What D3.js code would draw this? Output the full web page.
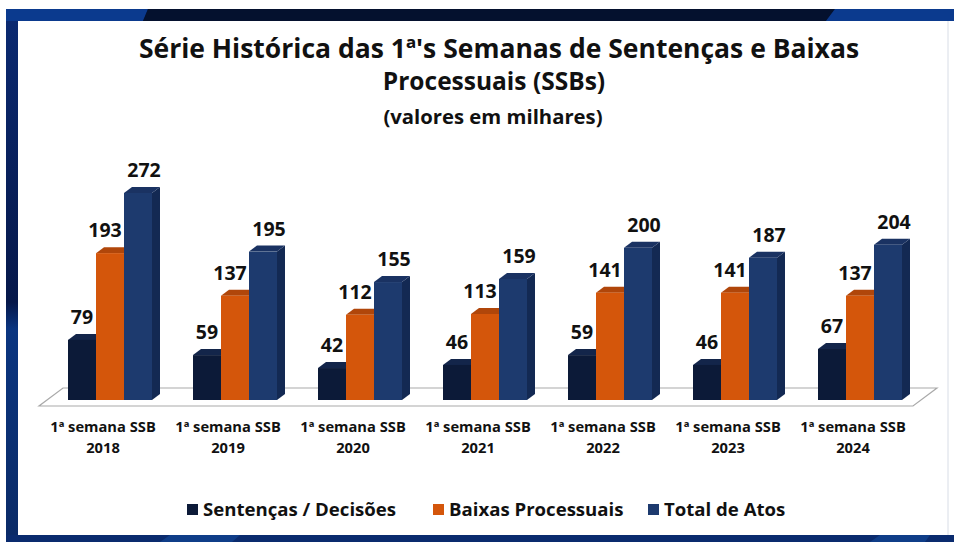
<!DOCTYPE html>
<html>
<head>
<meta charset="utf-8">
<script src="https://cdn.jsdelivr.net/npm/d3@7"></script>
<style>
  html, body { margin: 0; padding: 0; background: #fff; }
  svg { display: block; font-family: 'Open Sans', 'Noto Sans', sans-serif; }
</style>
</head>
<body>
<div id="chart"></div>
<script>
const categories = ['2018', '2019', '2020', '2021', '2022', '2023', '2024'];
const seriesNames = ['Sentenças / Decisões', 'Baixas Processuais', 'Total de Atos'];
const sentencas = [79, 59, 42, 46, 59, 46, 67];
const baixas = [193, 137, 112, 113, 141, 141, 137];
const total = [272, 195, 155, 159, 200, 187, 204];
const titleLines = ["Série Histórica das 1ª's Semanas de Sentenças e Baixas", 'Processuais (SSBs)'];
const subtitle = '(valores em milhares)';

const colors = [
    { front: '#0c1a38', top: '#13254a', side: '#081430' },
    { front: '#d4560b', top: '#b0460a', side: '#a84108' },
    { front: '#1d3a6e', top: '#1a3262', side: '#132953' }
];

const width = 954;
const height = 542;
const depthX = 8;
const depthY = 6;
const baseY = 400;
const labelShift = [0, -5, 6]; // data labels sit a little off-centre per series
const catShift = -7;

const svg = d3.select('#chart').append('svg')
    .attr('width', width)
    .attr('height', height);

// frame
const defs = svg.append('defs');
const leftGrad = defs.append('linearGradient').attr('id', 'leftGrad').attr('x1', 0).attr('y1', 0).attr('x2', 0).attr('y2', 1);
leftGrad.append('stop').attr('offset', '0%').attr('stop-color', '#0b2a72');
leftGrad.append('stop').attr('offset', '55%').attr('stop-color', '#06184a');
leftGrad.append('stop').attr('offset', '60%').attr('stop-color', '#0a3580');
leftGrad.append('stop').attr('offset', '100%').attr('stop-color', '#0a2a66');

svg.append('rect').attr('x', 6).attr('y', 9).attr('width', width - 6).attr('height', height - 9).attr('fill', '#07205a');
svg.append('rect').attr('x', 6).attr('y', 9).attr('width', 12).attr('height', height - 9).attr('fill', 'url(#leftGrad)');
svg.append('polygon').attr('points', '6,9 148,9 143,21 6,21').attr('fill', '#0b3a8e');
svg.append('polygon').attr('points', '148,9 835,9 826,21 143,21').attr('fill', '#04112e');
svg.append('polygon').attr('points', '835,9 954,9 954,21 826,21').attr('fill', '#0b3a8e');
svg.append('polygon').attr('points', '6,535 954,535 954,542 6,542').attr('fill', '#0a2b6e');
svg.append('polygon').attr('points', '170,535 240,535 232,542 160,542').attr('fill', '#134a9a').attr('opacity', 0.6);
svg.append('polygon').attr('points', '880,535 930,535 925,542 870,542').attr('fill', '#134a9a').attr('opacity', 0.6);

svg.append('rect').attr('x', 18).attr('y', 21).attr('width', width - 18).attr('height', 514).attr('fill', '#ffffff');
svg.append('line').attr('x1', 948).attr('x2', 948).attr('y1', 21).attr('y2', 535).attr('stroke', '#d8dde6').attr('stroke-width', 1);

// titles
const title = svg.append('g').attr('text-anchor', 'middle').attr('fill', '#111');
title.selectAll('text.t')
    .data(titleLines)
    .join('text')
    .attr('class', 't')
    .attr('x', (d, i) => (i === 0 ? 499 : 494))
    .attr('y', (d, i) => 58 + i * 32)
    .attr('font-size', (d, i) => (i === 0 ? 26.5 : 24.5))
    .attr('font-weight', 700)
    .text(d => d);
title.append('text')
    .attr('x', 493)
    .attr('y', 124)
    .attr('font-size', 20.3)
    .attr('font-weight', 700)
    .text(subtitle);

// scales
const x0 = d3.scaleBand()
    .domain(categories)
    .range([47.5, 922.5])
    .paddingInner(0.328)
    .paddingOuter(0.164);

const x1 = d3.scaleBand()
    .domain(d3.range(seriesNames.length))
    .range([0, x0.bandwidth()]);

const y = d3.scaleLinear()
    .domain([0, 300])
    .range([baseY, baseY - 300 * 0.761]);

// floor
const floorLeft = x0.range()[0] - 8.5;
const floorRight = x0.range()[1] - 9.5;
svg.append('polygon')
    .attr('points', [
        [floorLeft + 24, 388], [floorRight + 24, 388],
        [floorRight, 406], [floorLeft, 406]
    ].map(p => p.join(',')).join(' '))
    .attr('fill', '#ffffff')
    .attr('stroke', '#a9a9a9')
    .attr('stroke-width', 1.2);

// bars
const seriesValues = [sentencas, baixas, total];
const barData = [];
categories.forEach((c, ci) => {
    seriesValues.forEach((vals, si) => {
        barData.push({ cat: c, s: si, value: vals[ci] });
    });
});

const bars = svg.append('g').attr('class', 'bars')
    .selectAll('g')
    .data(barData)
    .join('g')
    .attr('transform', d => `translate(${x0(d.cat) + x1(d.s)},0)`);

const bw = x1.bandwidth();

bars.append('polygon')
    .attr('points', d => {
        const t = y(d.value);
        return [[bw, t], [bw + depthX, t - depthY], [bw + depthX, baseY - depthY], [bw, baseY]].map(p => p.join(',')).join(' ');
    })
    .attr('fill', d => colors[d.s].side);

bars.append('polygon')
    .attr('points', d => {
        const t = y(d.value);
        return [[0, t], [depthX, t - depthY], [bw + depthX, t - depthY], [bw, t]].map(p => p.join(',')).join(' ');
    })
    .attr('fill', d => colors[d.s].top);

bars.append('rect')
    .attr('x', 0)
    .attr('y', d => y(d.value))
    .attr('width', bw)
    .attr('height', d => baseY - y(d.value))
    .attr('fill', d => colors[d.s].front);

// labels on top so they are never hidden by the next bar
svg.append('g')
    .selectAll('text')
    .data(barData)
    .join('text')
    .attr('x', d => x0(d.cat) + x1(d.s) + bw / 2 + labelShift[d.s])
    .attr('y', d => y(d.value) - 16)
    .attr('text-anchor', 'middle')
    .attr('font-size', 19.5)
    .attr('font-weight', 700)
    .attr('fill', '#111')
    .text(d => d.value);

// category labels
const labels = svg.append('g').attr('text-anchor', 'middle').attr('fill', '#111')
    .selectAll('text')
    .data(categories)
    .join('text')
    .attr('x', d => x0(d) + x0.bandwidth() / 2 + catShift)
    .attr('y', 432)
    .attr('font-size', 14.7)
    .attr('font-weight', 700);
labels.append('tspan').text('1ª semana SSB');
labels.append('tspan')
    .attr('x', d => x0(d) + x0.bandwidth() / 2 + catShift)
    .attr('dy', 21)
    .text(d => d);

// legend
const legendX = [187, 433, 648];
const legend = svg.append('g')
    .selectAll('g')
    .data(seriesNames)
    .join('g')
    .attr('transform', (d, i) => `translate(${legendX[i]},509)`);
legend.append('rect')
    .attr('x', 0)
    .attr('y', -5)
    .attr('width', 11)
    .attr('height', 11)
    .attr('fill', (d, i) => colors[i].front);
legend.append('text')
    .attr('x', 16)
    .attr('y', 7)
    .attr('font-size', 18.6)
    .attr('font-weight', 700)
    .attr('fill', '#111')
    .text(d => d);
</script>
</body>
</html>
